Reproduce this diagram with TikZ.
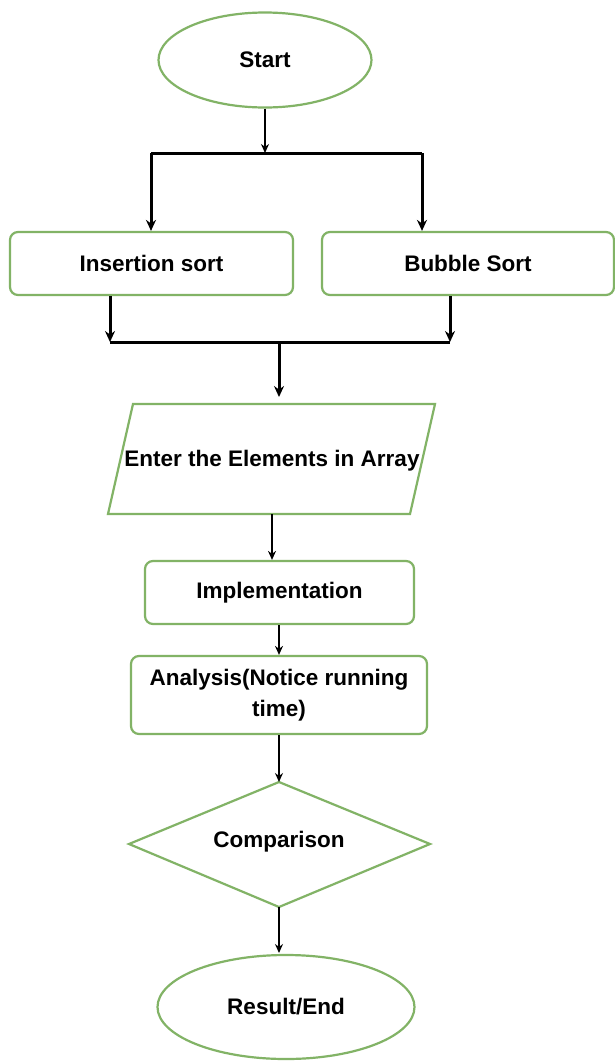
\documentclass[tikz,border=0pt]{standalone}
\usepackage{fontspec}
\setmainfont{Liberation Sans}
\usetikzlibrary{shapes.geometric,arrows.meta}
\definecolor{boxgreen}{RGB}{130,179,102}
\begin{document}
\begin{tikzpicture}[x=1pt,y=-1pt,
  txt/.style={font=\fontsize{22.5}{31}\selectfont\bfseries, text=black, align=center},
  gbox/.style={txt, draw=boxgreen, line width=2.2pt, rounded corners=8pt, inner sep=0pt},
  gell/.style={txt, draw=boxgreen, line width=2.2pt, ellipse, inner sep=0pt},
  gshape/.style={draw=boxgreen, line width=2.2pt, line join=miter},
  arr/.style={line width=1.5pt, -{Stealth[length=9pt,width=8pt]}},
  tarr/.style={line width=3pt, -{Stealth[length=11pt,width=10pt]}},
  tline/.style={line width=3pt}]
\useasboundingbox (0,0) rectangle (615,1061);
\fill[white] (0,0) rectangle (615,1061);

% nodes
\node[gell, minimum width=213pt, minimum height=95pt] (start) at (265,60) {Start};
\node[gbox, minimum width=283pt, minimum height=63pt] (ins) at (151.5,263.5) {Insertion sort};
\node[gbox, minimum width=292pt, minimum height=63pt] (bub) at (468,263.5) {Bubble Sort};

% parallelogram
\draw[gshape] (133,404) coordinate (ptl) -- (435,404) coordinate (ptr) -- (410,514) coordinate (pbr) -- (108,514) coordinate (pbl) -- cycle;
\node[txt] (enter) at (272,461) {Enter the Elements in Array};

\node[gbox, minimum width=269pt, minimum height=63pt] (impl) at (279.5,592.5) {Implementation};
\node[gbox, minimum width=296pt, minimum height=78pt] (anal) at (279,695) {Analysis(Notice running\\time)};

% diamond
\draw[gshape] (279,782) coordinate (dtop) -- (430,844) coordinate (dright) -- (279,907) coordinate (dbot) -- (129,844) coordinate (dleft) -- cycle;
\node[txt] (cmp) at (279,842) {Comparison};

\node[gell, minimum width=257pt, minimum height=104pt] (res) at (286,1007) {Result/End};

% coordinates
\coordinate (j1) at (265,153);
\coordinate (bl) at (151,153);
\coordinate (br) at (422,153);
\coordinate (m1) at (110,342);
\coordinate (m2) at (450,342);
\coordinate (m3) at (279,342);
\coordinate (pin) at (279,397);
\coordinate (pout) at (272,514);
\coordinate (rin) at (279,953);

% connectors
\draw[arr] (start.south) -- (j1);
\draw[tline] (bl) -- (br);
\draw[tarr] (bl) -- (bl |- ins.north);
\draw[tarr] (br) -- (br |- bub.north);
\draw[tarr] (m1 |- ins.south) -- (m1);
\draw[tarr] (m2 |- bub.south) -- (m2);
\draw[tline] (m1) -- (m2);
\draw[tarr] (m3) -- (pin);
\draw[arr] (pout) -- (pout |- impl.north);
\draw[arr] (impl.south -| dtop) -- (anal.north -| dtop);
\draw[arr] (anal.south -| dtop) -- (dtop);
\draw[arr] (dbot) -- (rin);
\end{tikzpicture}
\end{document}
